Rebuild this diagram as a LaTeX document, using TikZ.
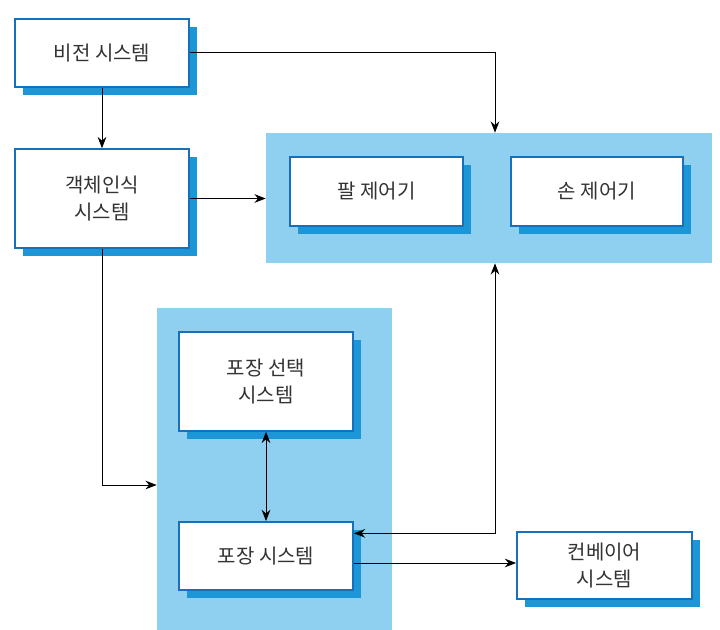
\documentclass[tikz,border=0pt]{standalone}
\usepackage{fontspec}
\setmainfont{Noto Sans CJK KR}
\usepackage{xcolor}
\usetikzlibrary{arrows.meta, positioning, shadows, calc}

\definecolor{panelblue}{RGB}{143,207,240}
\definecolor{shadeblue}{RGB}{28,150,215}
\definecolor{edgeblue}{RGB}{22,112,188}

\begin{document}
\begin{tikzpicture}[
    x=0.75pt, y=-0.75pt,
    box/.style={draw=edgeblue, line width=1.3pt, fill=white, align=center, inner sep=0pt,
        font=\fontsize{15}{20}\selectfont, text=black!80,
        drop shadow={shadow xshift=6pt, shadow yshift=-6pt, fill=shadeblue, opacity=1}},
    panel/.style={fill=panelblue, draw=none, inner sep=0pt},
    arr/.style={-{Stealth[length=8.5pt, width=6.5pt]}, line width=0.75pt},
    biarr/.style={{Stealth[length=8.5pt, width=6.5pt]}-{Stealth[length=8.5pt, width=6.5pt]}, line width=0.75pt},
]
\useasboundingbox (0,0) rectangle (720,630);

% Blue panels
\node[panel, minimum width=334.5pt, minimum height=97.5pt] (ctrl) at (489,198) {};
\node[panel, minimum width=176.25pt, minimum height=241.5pt] (pkg) at (274.5,469) {};

% Top left column
\node[box, minimum width=130.5pt, minimum height=51pt] (vision) at (102,53) {비전 시스템};
\node[box, minimum width=130.5pt, minimum height=74pt] (objrec) at (102,198.5) {객체인식\\시스템};

% Controllers
\node[box, minimum width=129.75pt, minimum height=51.75pt] (arm) at (376.5,191.5) {팔 제어기};
\node[box, minimum width=129pt, minimum height=51.75pt] (hand) at (597,191.5) {손 제어기};

% Packaging
\node[box, minimum width=130.5pt, minimum height=74pt] (pksel) at (266,381.5) {포장 선택\\시스템};
\node[box, minimum width=130.5pt, minimum height=51pt] (pksys) at (266,556) {포장 시스템};
\node[box, minimum width=131.25pt, minimum height=50pt] (conv) at (604.5,565.5) {컨베이어\\시스템};

\coordinate (jx) at (495,0);

% Connectors
\draw[arr] (vision.south) -- (objrec.north);
\draw[arr] (vision.east) -| (jx |- ctrl.north);
\draw[arr] (objrec.east) -- (objrec.east -| ctrl.west);
\draw[arr] (objrec.south) |- ([yshift=-12pt]pkg.west);
\draw[biarr] (pksel.south) -- (pksys.north);
\draw[biarr] ([yshift=17pt]pksys.east) -| (jx |- ctrl.south);
\draw[arr] ([yshift=-5.25pt]pksys.east) -- ([yshift=-5.25pt]pksys.east -| conv.west);

\end{tikzpicture}
\end{document}
